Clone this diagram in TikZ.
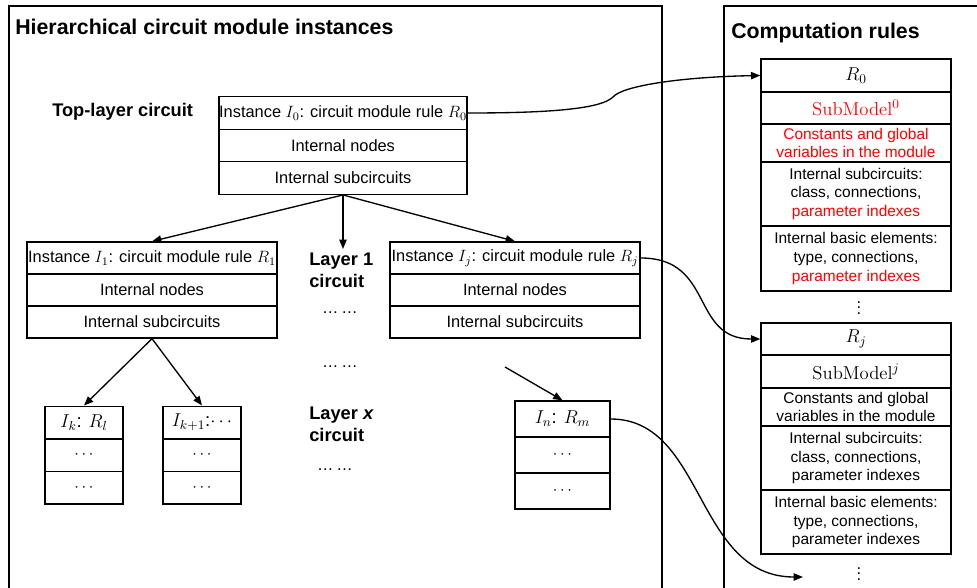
\RequirePackage{fix-cm}
\documentclass[tikz,border=0pt]{standalone}
\usepackage{fontspec}
\setsansfont{Liberation Sans}
\usetikzlibrary{arrows.meta}

\begin{document}
\begin{tikzpicture}[x=0.75pt,y=-0.75pt,font=\sffamily,
  frame/.style={line width=1pt},
  cell/.style={draw,line width=1pt,inner sep=0pt,align=center},
  arr/.style={line width=1pt,-{Triangle[length=7pt,width=5.5pt]}},
  ttl/.style={font=\sffamily\bfseries\fontsize{16}{19}\selectfont,anchor=base west,inner sep=0pt},
  lay/.style={font=\sffamily\bfseries\fontsize{13.7}{16.5}\selectfont,align=left,inner sep=3pt},
  btxt/.style={font=\sffamily\fontsize{12.3}{15}\selectfont},
  rtxt/.style={font=\sffamily\fontsize{11.6}{14.2}\selectfont},
  mtxt/.style={font=\sffamily\fontsize{14}{16}\selectfont}]
  \useasboundingbox (0,0) rectangle (977,588);

  % Frames and titles.
  \draw[frame] (9,600) -- (9,6) -- (662,6) -- (662,600);
  \draw[frame] (724,600) -- (724,6) -- (990,6);
  \node[ttl] (ttlL) at (15,35) {Hierarchical circuit module instances};
  \node[ttl] (ttlR) at (731,39) {Computation rules};

  % Instance hierarchy.
  \node[lay,anchor=base west,inner sep=0pt] (top) at (52,117) {Top-layer circuit};
  \node[cell,btxt,minimum width=186pt,minimum height=24.4pt] (i0a) at (343,113) {Instance $I_0$: circuit module rule $R_0$};
  \node[cell,btxt,minimum width=186pt,minimum height=24.4pt] (i0b) at (343,145.5) {Internal nodes};
  \node[cell,btxt,minimum width=186pt,minimum height=24.4pt] (i0c) at (343,178) {Internal subcircuits};

  \foreach \nm/\x/\i in {i1/152/1,ij/515/j}{
    \node[cell,btxt,minimum width=187.5pt,minimum height=24pt] (\nm a) at (\x,258) {Instance $I_\i$: circuit module rule $R_\i$};
    \node[cell,btxt,minimum width=187.5pt,minimum height=24pt] (\nm b) at (\x,290) {Internal nodes};
    \node[cell,btxt,minimum width=187.5pt,minimum height=24pt] (\nm c) at (\x,322) {Internal subcircuits};
  }
  \node[lay,anchor=north west] (lay1) at (305,249) {Layer 1\\circuit};
  \node[btxt] (dots1) at (340,313) {\ldots\,\ldots};
  \node[btxt] (dots2) at (340,367) {\ldots\,\ldots};

  \foreach \nm/\x/\t in {ik/84/{$I_k$: $R_l$},ik1/202/{$I_{k+1}$:$\cdots$}}{
    \node[cell,mtxt,minimum width=58.5pt,minimum height=24.5pt] (\nm a) at (\x,422.5) {\t};
    \node[cell,btxt,minimum width=58.5pt,minimum height=24.5pt] (\nm b) at (\x,455) {$\cdots$};
    \node[cell,btxt,minimum width=58.5pt,minimum height=24.5pt] (\nm c) at (\x,487.5) {$\cdots$};
  }
  \node[lay,anchor=north west] (layx) at (305,403) {Layer \textit{x}\\circuit};
  \node[btxt] (dots3) at (335,470) {\ldots\,\ldots};

  \node[cell,mtxt,minimum width=71.25pt,minimum height=27pt] (ina) at (562.5,419) {$I_n$: $R_m$};
  \node[cell,btxt,minimum width=71.25pt,minimum height=27pt] (inb) at (562.5,455) {$\cdots$};
  \node[cell,btxt,minimum width=71.25pt,minimum height=27pt] (inc) at (562.5,491) {$\cdots$};

  % Computation rules.
  \node[cell,mtxt,minimum width=142.5pt,minimum height=24.75pt] (r0a) at (856,75.5) {$R_0$};
  \node[cell,mtxt,text=red,minimum width=142.5pt,minimum height=24pt] (r0b) at (856,108) {{\rmfamily SubModel}$^0$};
  \node[cell,rtxt,text=red,minimum width=142.5pt,minimum height=28.5pt] (r0c) at (856,143) {Constants and global\\variables in the module};
  \node[cell,rtxt,minimum width=142.5pt,minimum height=48pt] (r0d) at (856,194) {Internal subcircuits:\\class, connections,\\\textcolor{red}{parameter indexes}};
  \node[cell,rtxt,minimum width=142.5pt,minimum height=48.75pt] (r0e) at (856,258.5) {Internal basic elements:\\type, connections,\\\textcolor{red}{parameter indexes}};
  \node[btxt,inner sep=0pt] (vd0) at (859,304) {$\vdots$};

  \node[cell,mtxt,minimum width=142.5pt,minimum height=24pt] (rja) at (856,339) {$R_j$};
  \node[cell,mtxt,minimum width=142.5pt,minimum height=24.75pt] (rjb) at (856,371.5) {{\rmfamily SubModel}$^j$};
  \node[cell,rtxt,minimum width=142.5pt,minimum height=28.5pt] (rjc) at (856,407) {Constants and global\\variables in the module};
  \node[cell,rtxt,minimum width=142.5pt,minimum height=48pt] (rjd) at (856,458) {Internal subcircuits:\\class, connections,\\parameter indexes};
  \node[cell,rtxt,minimum width=142.5pt,minimum height=48pt] (rje) at (856,522) {Internal basic elements:\\type, connections,\\parameter indexes};
  \node[btxt,inner sep=0pt] (vdj) at (859,570) {$\vdots$};

  % Connectors.
  \draw[arr] (i0c.south) -- (i1a.north);
  \draw[arr] (i0c.south) -- (i0c.south |- lay1.north);
  \draw[arr] (i0c.south) -- (ija.north);
  \draw[arr] (i1c.south) -- (ika.north);
  \draw[arr] (i1c.south) -- (ik1a.north);
  \coordinate (from) at (505,367);
  \draw[arr] (from) -- (ina.north);

  \draw[arr] (i0a.east) .. controls (540,113) and (600,110) .. (613,97)
    .. controls (622,86) and (680,77) .. (r0a.west);
  \draw[arr] (ija.east) .. controls (715,258) and (690,339) .. (rja.west);
  \coordinate (tail) at (803,577);
  \draw[arr] (ina.east) .. controls (705,419) and (695,577) .. (tail);
\end{tikzpicture}
\end{document}
